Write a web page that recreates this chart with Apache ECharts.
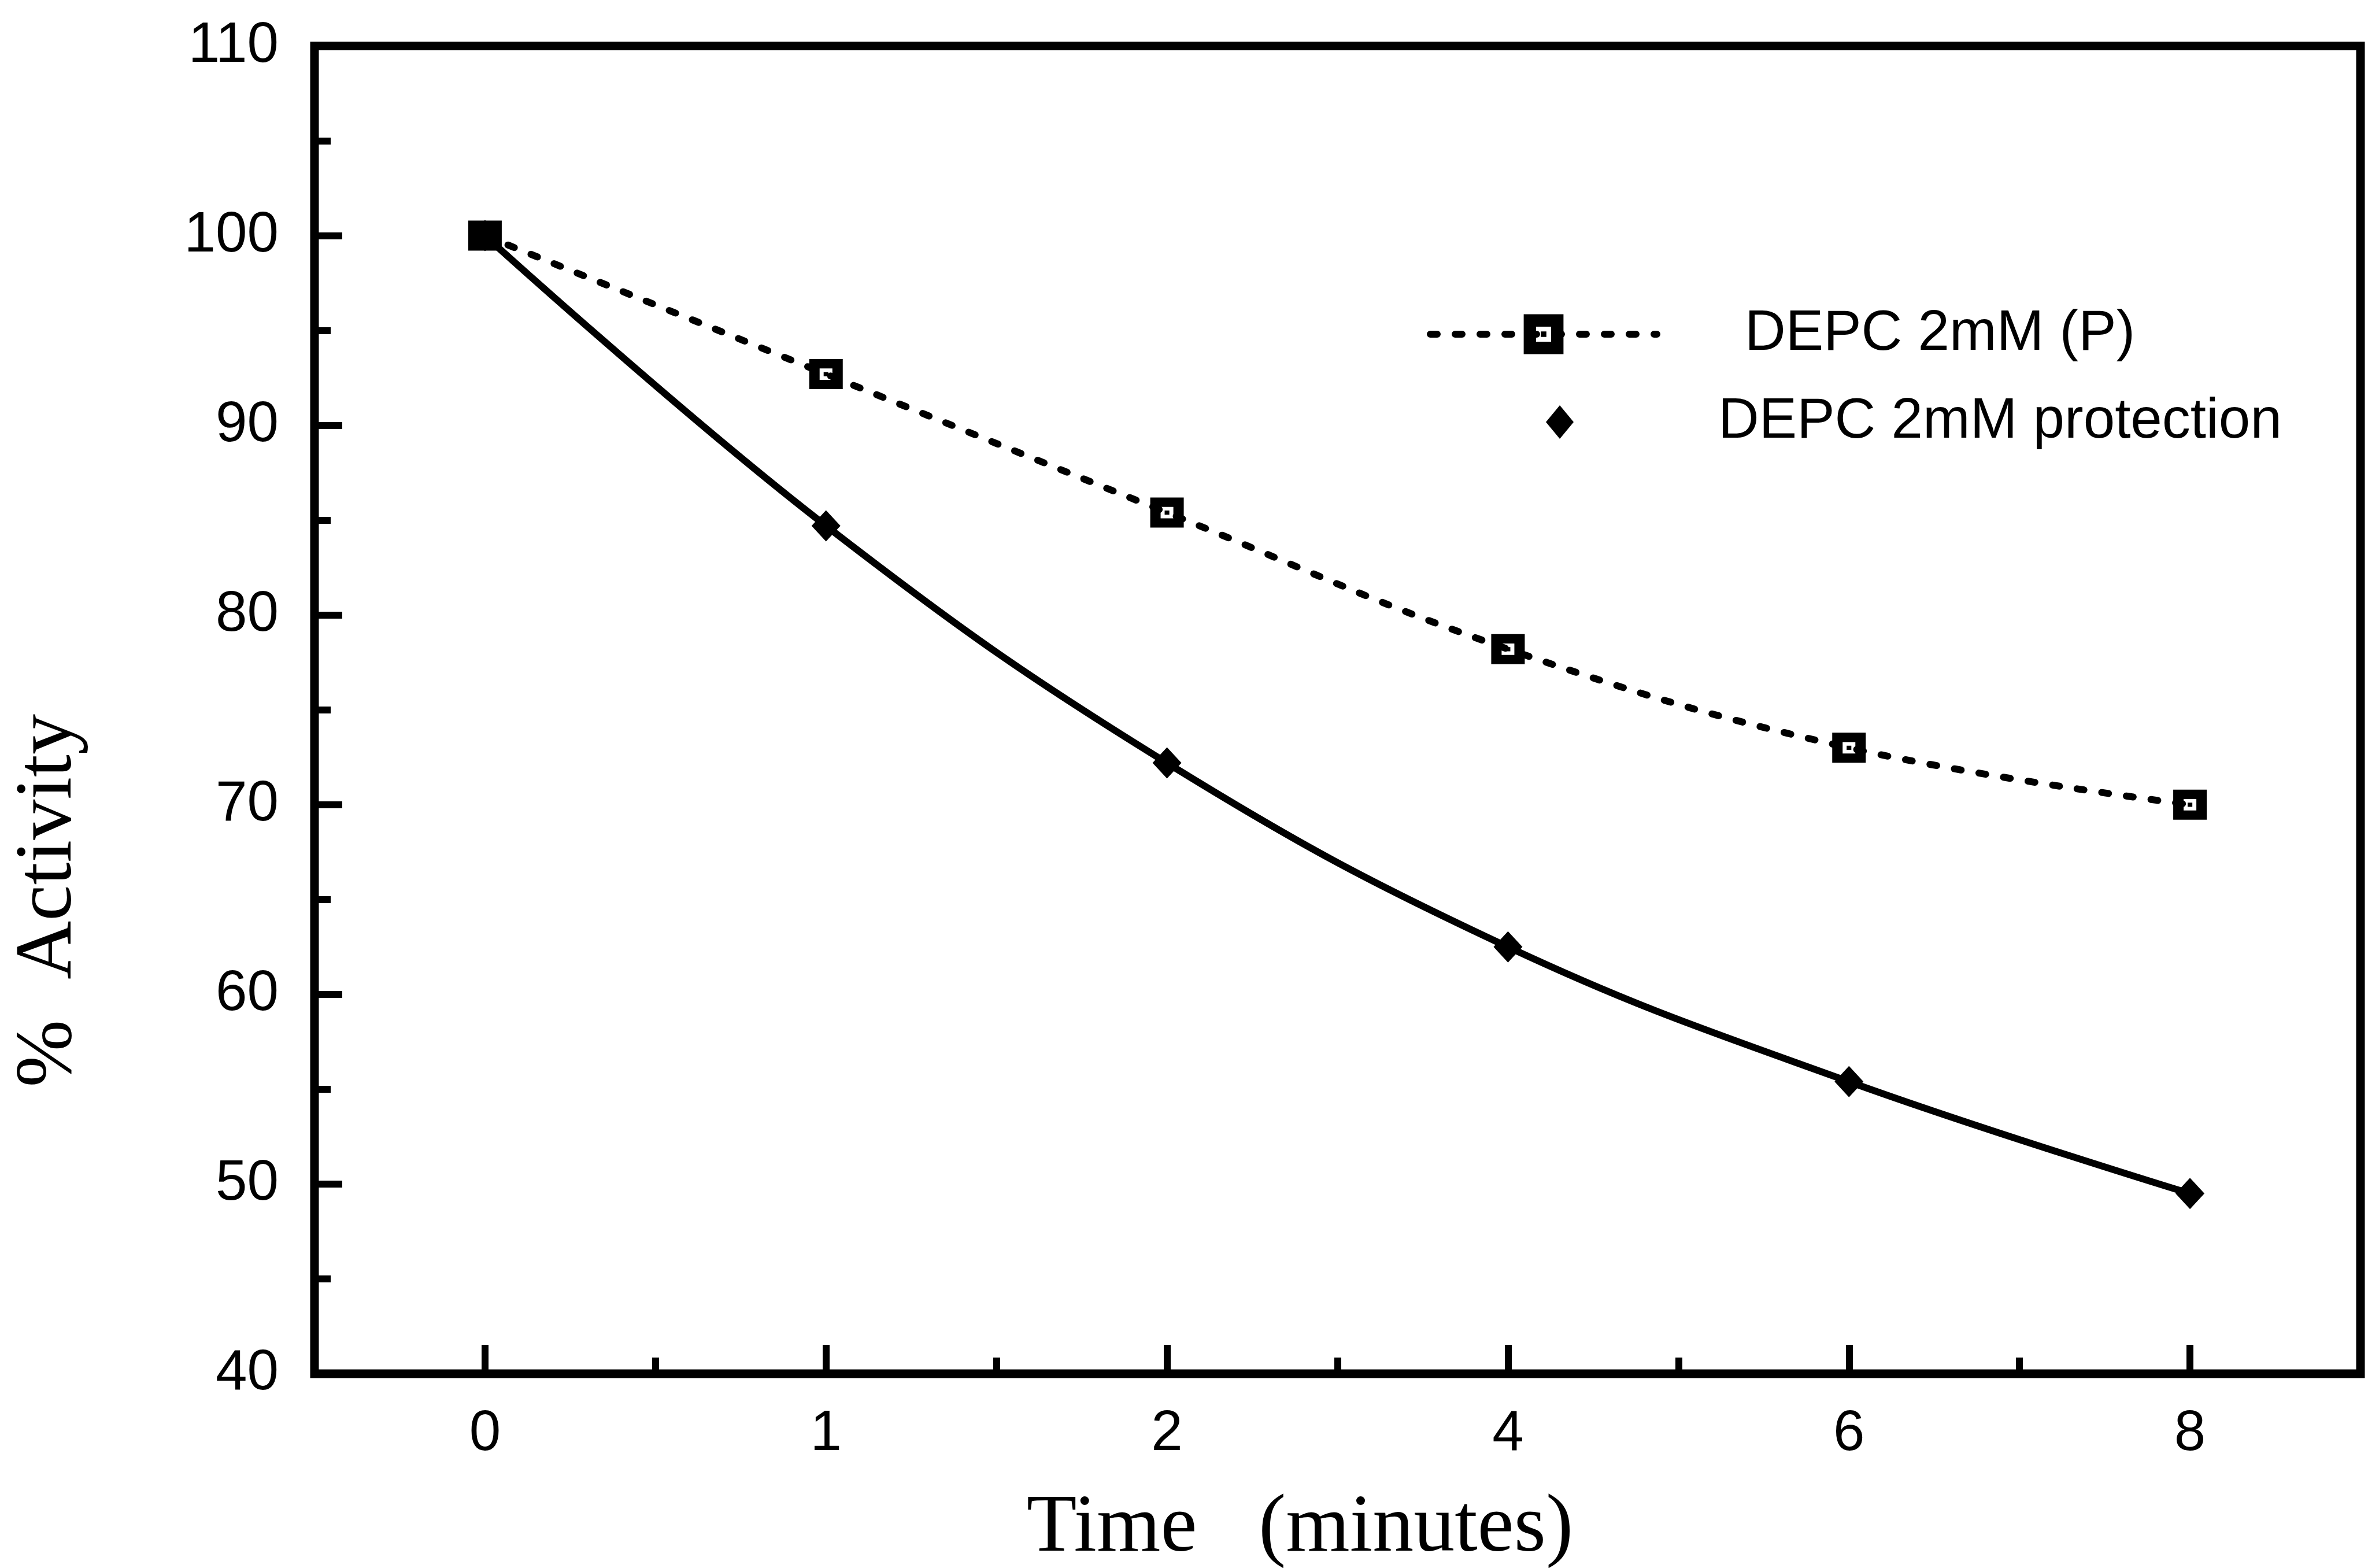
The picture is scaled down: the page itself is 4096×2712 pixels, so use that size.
<!DOCTYPE html>
<html>
<head>
<meta charset="utf-8">
<title>% Activity vs Time</title>
<script src="https://cdn.jsdelivr.net/npm/echarts@6/dist/echarts.min.js"></script>
<style>
  html, body { margin: 0; padding: 0; background: #fff; }
  #chart { width: 4096px; height: 2712px; }
</style>
</head>
<body>
<div id="chart"></div>
<script>
// Incubation times (minutes), evenly spaced categories
const timeLabels = ['0', '1', '2', '4', '6', '8'];
// Remaining activity (%) for each treatment
const depcP = [100, 92.7, 85.4, 78.2, 73.0, 70.0];
const depcProtection = [100, 84.7, 72.2, 62.5, 55.4, 49.5];
// Value axis range
const yMin = 40;
const yMax = 110;
const yStep = 10;

const seriesNames = ['DEPC 2mM (P)', 'DEPC 2mM protection'];

const SANS = '"Liberation Sans", Arial, Helvetica, sans-serif';
const SERIF = '"Liberation Serif", "Times New Roman", Times, serif';
const INK = '#000';

// Boxed square with a centre dot (holes cut by reverse winding)
const boxDot = 'path://M0 0H10V10H0Z M3.1 3.1V6.9H6.9V3.1Z M4.3 4.3H5.7V5.7H4.3Z';
const dotted = { color: INK, width: 12, type: [12, 31], cap: 'round' };

// fixed plot box; no automatic shrinking to fit labels
const gridBox = { left: 544, right: 13, top: 79.5, bottom: 336, outerBoundsMode: 'none', containLabel: false };

const chart = echarts.init(document.getElementById('chart'), null, { renderer: 'canvas' });

chart.setOption({
  animation: false,
  backgroundColor: '#fff',
  grid: [
    Object.assign({ show: true, borderColor: INK, borderWidth: 15, backgroundColor: 'transparent' }, gridBox),
    Object.assign({ show: false }, gridBox)
  ],
  legend: [
    {
      data: [seriesNames[0]],
      left: 2468, top: 529, padding: 0,
      itemWidth: 392, itemHeight: 86,
      selectedMode: false,
      lineStyle: dotted,
      textStyle: { fontFamily: SANS, fontSize: 98, color: INK, padding: [0, 0, 0, 147] }
    },
    {
      data: [{ name: seriesNames[1], icon: 'diamond' }],
      left: 2674, top: 681, padding: 0,
      itemWidth: 48, itemHeight: 58,
      symbolKeepAspect: false,
      selectedMode: false,
      textStyle: { fontFamily: SANS, fontSize: 98, color: INK, padding: [0, 0, 0, 245] }
    }
  ],
  xAxis: [
    {
      type: 'category', gridIndex: 0, data: timeLabels, boundaryGap: true,
      axisLine: { show: false },
      axisTick: { show: true, inside: true, alignWithLabel: true, length: 50, lineStyle: { color: INK, width: 12 } },
      axisLabel: { fontFamily: SANS, fontSize: 98, color: INK, margin: 56 },
      splitLine: { show: false },
      name: 'Time   (minutes)', nameLocation: 'middle', nameGap: 198,
      nameTextStyle: { fontFamily: SERIF, fontSize: 142, color: INK, padding: [0, 130, 0, 0] }
    },
    {
      // short ticks on the category boundaries
      type: 'category', gridIndex: 1, data: timeLabels, boundaryGap: true,
      axisLine: { show: false },
      axisTick: { show: true, inside: true, alignWithLabel: false, length: 28, lineStyle: { color: INK, width: 12 } },
      axisLabel: { show: false },
      splitLine: { show: false }
    }
  ],
  yAxis: [
    {
      type: 'value', gridIndex: 0, min: yMin, max: yMax, interval: yStep,
      axisLine: { show: false },
      axisTick: { show: true, inside: true, length: 48, lineStyle: { color: INK, width: 12 } },
      minorTick: { show: true, splitNumber: 2, length: 28, lineStyle: { color: INK, width: 12 } },
      axisLabel: { fontFamily: SANS, fontSize: 98, color: INK, margin: 62 },
      splitLine: { show: false },
      minorSplitLine: { show: false },
      name: '%  Activity', nameLocation: 'middle', nameGap: 389,
      nameTextStyle: { fontFamily: SERIF, fontSize: 140, color: INK, padding: [0, 660, 0, 0] }
    },
    {
      type: 'value', gridIndex: 1, min: yMin, max: yMax, interval: yStep, show: false
    }
  ],
  series: [
    {
      name: seriesNames[0],
      type: 'line', xAxisIndex: 0, yAxisIndex: 0,
      data: depcP,
      smooth: 0.4,
      symbol: boxDot, symbolSize: [58, 52],
      itemStyle: { color: INK, borderWidth: 0 },
      lineStyle: dotted,
      z: 3
    },
    {
      name: seriesNames[1],
      type: 'line', xAxisIndex: 0, yAxisIndex: 0,
      data: depcProtection,
      smooth: 0.4,
      symbol: 'diamond', symbolSize: [50, 54],
      itemStyle: { color: INK, borderWidth: 0 },
      lineStyle: { color: INK, width: 12, type: 'solid' },
      z: 4
    }
  ]
});
</script>
</body>
</html>
